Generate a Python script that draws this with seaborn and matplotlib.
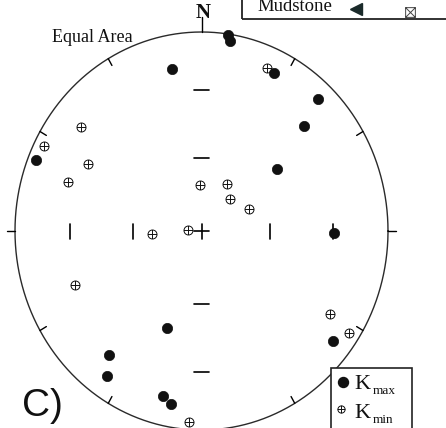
import numpy as np
import pandas as pd
import matplotlib
matplotlib.use("Agg")
import matplotlib.pyplot as plt
import seaborn as sns
from matplotlib.path import Path
from matplotlib.patches import Rectangle

# Principal susceptibility axes (trend, plunge in degrees), lower hemisphere
kmax_trend = [8.2, 9.1, 349.0, 26.1, 43.3, 46.2, 291.9, 52.4, 90.8,
              200.8, 218.5, 214.8, 194.0, 190.7, 128.1]
kmax_plunge = [0.6, 3.7, 18.2, 12.6, 9.8, 24.8, 4.9, 47.6, 29.7,
               46.8, 21.5, 12.2, 15.7, 12.6, 11.4]
kmin_trend = [23.2, 309.0, 296.8, 299.0, 289.0, 358.0, 30.1, 43.5, 66.5,
              266.8, 274.0, 248.2, 121.2, 123.0, 184.0]
kmin_plunge = [11.9, 18.0, 5.9, 31.0, 25.3, 71.2, 67.7, 71.9, 67.3,
               68.3, 84.1, 27.8, 20.6, 6.4, 4.3]

# graticule inclinations marked along the N-S and E-W axes
axis_tick_incl = [30, 60]


def equal_area(trend, plunge):
    t = np.radians(np.asarray(trend, float))
    p = np.radians(np.asarray(plunge, float))
    r = np.sqrt(2.0) * np.sin((np.pi / 2 - p) / 2.0)
    return r * np.sin(t), r * np.cos(t)


kx, ky = equal_area(kmax_trend, kmax_plunge)
nx, ny = equal_area(kmin_trend, kmin_plunge)
df = pd.concat([
    pd.DataFrame({"x": kx, "y": ky, "axis": "Kmax"}),
    pd.DataFrame({"x": nx, "y": ny, "axis": "Kmin"}),
], ignore_index=True)

sns.set_theme(style="white")
W, H = 446, 428
CX, CY = 201.5, 231.0      # net centre in pixels
RX, RY = 186.5, 199.0      # net radius in pixels (horizontal, vertical)

fig = plt.figure(figsize=(W / 100, H / 100), dpi=100)
ax = fig.add_axes([0, 0, 1, 1])
ax.set_xlim(-CX / RX, (W - CX) / RX)
ax.set_ylim(-(H - CY) / RY, CY / RY)
ax.axis("off")


def P(px, py):
    return (px - CX) / RX, (CY - py) / RY


# primitive circle
th = np.linspace(0, 2 * np.pi, 721)
ax.plot(np.cos(th), np.sin(th), color="#2a2a2a", lw=1.0, zorder=2)

# rim ticks every 30 degrees
for az in range(0, 360, 30):
    a = np.radians(az)
    s, c = np.sin(a), np.cos(a)
    if az == 0:
        r0, r1 = 1.0, 1.0 + 15 / RY
    elif az in (90, 270):
        r0, r1 = 1.0, 1.0 + 8 / RX
    elif az == 180:
        r0, r1 = 1.0, 1.0 + 8 / RY
    else:
        r0, r1 = 1.0, 1.0 - 7.5 / 190
    ax.plot([r0 * s, r1 * s], [r0 * c, r1 * c], color="black", lw=1.0, zorder=2)

# inclination ticks along the axes and centre cross
hx, hy = 7.5 / RX, 7.5 / RY
for inc in axis_tick_incl:
    r = np.sqrt(2.0) * np.sin(np.radians(90 - inc) / 2.0)
    for sgn in (-1, 1):
        ax.plot([sgn * r, sgn * r], [-hy, hy], color="black", lw=1.2, zorder=2)
        ax.plot([-hx, hx], [sgn * r, sgn * r], color="black", lw=1.2, zorder=2)
ax.plot([-hx, hx], [0, 0], color="black", lw=1.2, zorder=2)
ax.plot([0, 0], [-hy, hy], color="black", lw=1.2, zorder=2)

# crossed-circle marker for Kmin
circ = Path.unit_circle()
cross = Path([(-1, 0), (1, 0), (0, -1), (0, 1)],
             [Path.MOVETO, Path.LINETO, Path.MOVETO, Path.LINETO])
oplus = Path.make_compound_path(circ, cross)

sns.scatterplot(data=df[df["axis"] == "Kmax"], x="x", y="y", ax=ax,
                marker="o", s=55, color="#111111", edgecolor="#111111",
                linewidth=0.5, legend=False, zorder=4)
sns.scatterplot(data=df[df["axis"] == "Kmin"], x="x", y="y", ax=ax,
                marker=oplus, s=42, facecolor="white", edgecolor="#111111",
                linewidth=0.7, legend=False, zorder=3)

ax.set_xlim(-CX / RX, (W - CX) / RX)
ax.set_ylim(-(H - CY) / RY, CY / RY)
ax.set_xlabel("")
ax.set_ylabel("")

serif = "Liberation Serif"
ax.text(*P(203, 12.5), "N", fontsize=15, fontweight="bold", family=serif,
        ha="center", va="center", color="#111111")
ax.text(*P(52, 42), "Equal Area", fontsize=13, family=serif,
        ha="left", va="baseline", color="#111111")
ax.text(*P(22, 406), "C)", fontsize=28, family="Liberation Sans",
        ha="left", va="center", color="#111111")

# partial key box at the top
x0, y0 = P(242, 19)
x1, y1 = P(460, -10)
ax.add_patch(Rectangle((x0, y0), x1 - x0, y1 - y0, fill=False,
                       edgecolor="#222222", lw=1.3, zorder=5))
ax.text(*P(257, 11), "Mudstone", fontsize=13.5, family=serif,
        ha="left", va="baseline", color="#111111")
ax.plot(*P(356, 8.5), marker="<", ms=9, color="#1a2a2a", mec="#1a2a2a", zorder=5)
bxs = Path([(-1, -1), (1, -1), (1, 1), (-1, 1), (-1, -1), (-1, -1), (1, 1), (-1, 1), (1, -1)],
           [Path.MOVETO, Path.LINETO, Path.LINETO, Path.LINETO, Path.CLOSEPOLY,
            Path.MOVETO, Path.LINETO, Path.MOVETO, Path.LINETO])
ax.plot(*P(410, 11.5), marker=bxs, ms=7, mfc="none", mec="#444444", mew=0.7, zorder=5)

# legend box at the bottom right
lx0, ly0 = P(331, 440)
lx1, ly1 = P(412, 368)
ax.add_patch(Rectangle((lx0, ly0), lx1 - lx0, ly1 - ly0, facecolor="white",
                       edgecolor="#222222", lw=1.2, zorder=6))
ax.plot(*P(343, 382), marker="o", ms=7.2, color="#111111", zorder=7)
ax.plot(*P(341, 409), marker=oplus, ms=5.2, mfc="white", mec="#111111",
        mew=0.7, zorder=7)
ax.text(*P(354, 389), "K", fontsize=16, family=serif, ha="left",
        va="baseline", color="#111111", zorder=7)
ax.text(*P(373, 393.5), "max", fontsize=9.5, family=serif, ha="left",
        va="baseline", color="#111111", zorder=7)
ax.text(*P(354, 418), "K", fontsize=16, family=serif, ha="left",
        va="baseline", color="#111111", zorder=7)
ax.text(*P(373, 423), "min", fontsize=9.5, family=serif, ha="left",
        va="baseline", color="#111111", zorder=7)

fig.savefig("out.png", dpi=100)
